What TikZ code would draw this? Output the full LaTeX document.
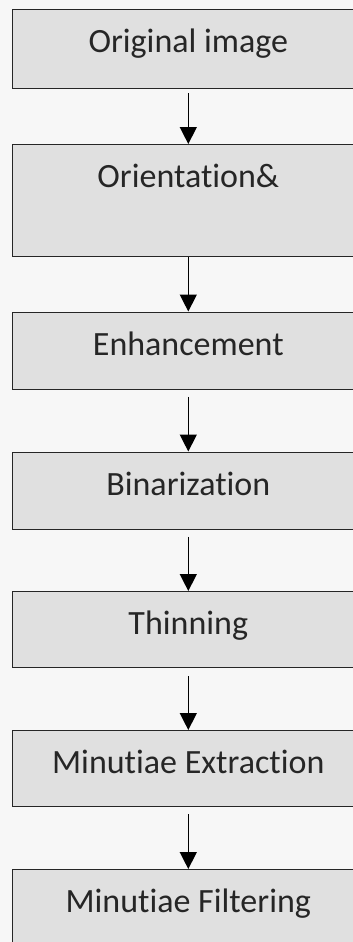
\documentclass[tikz,border=0pt]{standalone}
\usepackage{fontspec}
\setmainfont{Carlito}[Ligatures={NoCommon}]
\usetikzlibrary{arrows.meta}

\begin{document}
\begin{tikzpicture}[x=1pt, y=1pt,
	stagebox/.style={draw=black!85, line width=1.4pt, fill=black!12,
		minimum width=352pt, inner xsep=0pt, inner ysep=0pt, anchor=north,
		font=\fontsize{34pt}{40pt}\selectfont, text=black!85, text height=43pt},
	flow/.style={-{Triangle[width=17pt,length=17pt]}, line width=1.4pt, draw=black}]
	\fill[black!3] (0,0) rectangle (353,-942);
	\clip (0,0) rectangle (353,-942);
	\node[stagebox, text depth=36pt] (orig)   at (188.3,-9)     {Original image};
	\node[stagebox, text depth=69pt] (orient) at (188.3,-144)   {Orientation\&};
	\node[stagebox, text depth=34pt] (enh)    at (188.3,-311.5) {Enhancement};
	\node[stagebox, text depth=34pt] (bin)    at (188.3,-451.5) {Binarization};
	\node[stagebox, text depth=33pt] (thin)   at (188.3,-591)   {Thinning};
	\node[stagebox, text depth=33pt] (mext)   at (188.3,-730)   {Minutiae Extraction};
	\node[stagebox, text depth=39pt] (mfilt)  at (188.3,-869)   {Minutiae Filtering};
	\foreach \from/\to/\gap in {
		orig/orient/4, orient/enh/0, enh/bin/7,
		bin/thin/7, thin/mext/8, mext/mfilt/7}
	\draw[flow] ([yshift=-\gap pt]\from.south) -- (\to.north);
\end{tikzpicture}
\end{document}
